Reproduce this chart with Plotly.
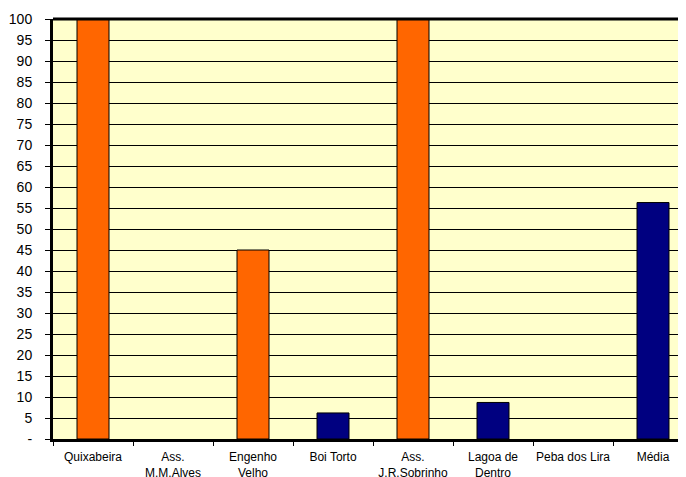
import plotly.graph_objects as go

categories = ["Quixabeira", "Ass.<br>M.M.Alves", "Engenho<br>Velho", "Boi Torto",
              "Ass.<br>J.R.Sobrinho", "Lagoa de<br>Dentro", "Peba dos Lira", "Média"]
values = [100, None, 45, 6.2, 100, 8.7, None, 56.3]
bar_colors = ["#FF6600", "#FF6600", "#FF6600", "#000080",
              "#FF6600", "#000080", "#000080", "#000080"]
y_ticks = list(range(0, 101, 5))
y_ticktext = ["-"] + [str(v) for v in y_ticks[1:]]

fig = go.Figure()
fig.add_trace(go.Bar(
    x=categories, y=values,
    marker=dict(color=bar_colors, line=dict(color="#000000", width=1)),
    width=0.4,
))

# page body has an 8px margin; size the figure so it fills the window
fig.update_layout(
    width=678, height=469,
    margin=dict(l=45, r=0, t=11, b=38, autoexpand=False),
    paper_bgcolor="#FFFFFF",
    plot_bgcolor="#FFFFCC",
    showlegend=False,
    font=dict(family="Liberation Sans, Arial, sans-serif", color="#000000"),
)
fig.update_xaxes(
    range=[-0.5, 7.4125], automargin=False, tickangle=0,
    showline=True, linecolor="#000000", linewidth=3,
    ticks="outside", tickson="boundaries", ticklen=4, tickcolor="#000000", tickwidth=1,
    tickfont=dict(size=12), ticklabelstandoff=5,
    showgrid=False,
)
fig.update_yaxes(
    range=[0, 100], automargin=False,
    tickvals=y_ticks, ticktext=y_ticktext,
    showline=True, linecolor="#000000", linewidth=3,
    ticks="outside", ticklen=5, tickcolor="#000000", tickwidth=1,
    tickfont=dict(size=14), ticklabelstandoff=10,
    showgrid=True, gridcolor="#000000", gridwidth=1,
    zeroline=False,
)
# top border of plot area
fig.add_shape(type="line", xref="paper", yref="paper", x0=0, x1=1, y0=1, y1=1,
              line=dict(color="#000000", width=3))

fig.write_html("out.html")
